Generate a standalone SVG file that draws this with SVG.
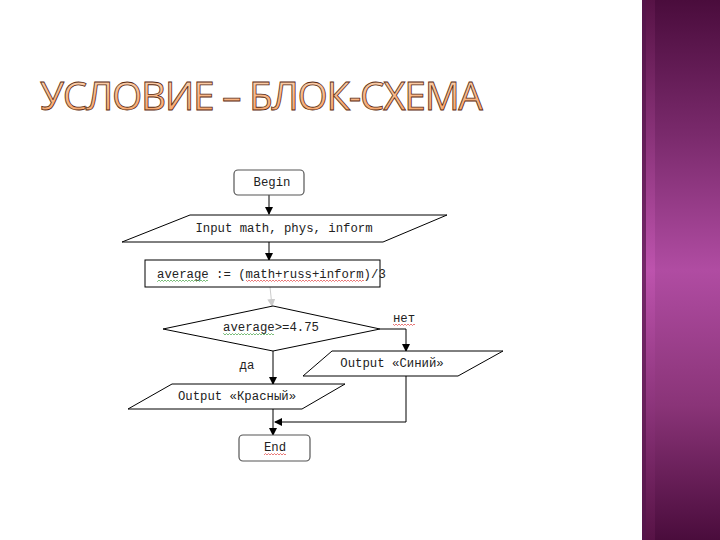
<svg xmlns="http://www.w3.org/2000/svg" width="720" height="540" viewBox="0 0 720 540">
<defs>
<linearGradient id="band" x1="0" y1="0" x2="0" y2="1">
<stop offset="0" stop-color="#4a0c3c"/>
<stop offset="0.25" stop-color="#7a2a6c"/>
<stop offset="0.5" stop-color="#b04ca2"/>
<stop offset="0.75" stop-color="#8a3478"/>
<stop offset="1" stop-color="#4a0c3c"/>
</linearGradient>
<linearGradient id="stripe" x1="0" y1="0" x2="0" y2="1">
<stop offset="0" stop-color="#5a1448"/>
<stop offset="0.5" stop-color="#c055b0"/>
<stop offset="1" stop-color="#5a1448"/>
</linearGradient>
<linearGradient id="title" x1="0" y1="0" x2="0" y2="1">
<stop offset="0" stop-color="#fde3c8"/>
<stop offset="0.5" stop-color="#f9b98a"/>
<stop offset="1" stop-color="#f6a060"/>
</linearGradient>
<pattern id="zr" width="3" height="2" patternUnits="userSpaceOnUse">
<path d="M0,0 L1.5,1.5 L3,0" fill="none" stroke="#e04040" stroke-width="0.7"/>
</pattern>
<pattern id="zg" width="3" height="2" patternUnits="userSpaceOnUse">
<path d="M0,0 L1.5,1.5 L3,0" fill="none" stroke="#40a040" stroke-width="0.7"/>
</pattern>
<marker id="arr" markerWidth="8" markerHeight="8" refX="7" refY="4" orient="auto" markerUnits="userSpaceOnUse">
<path d="M0,0 L8,4 L0,8 Z" fill="#000"/>
</marker>
<marker id="arrg" markerWidth="8" markerHeight="8" refX="7" refY="4" orient="auto" markerUnits="userSpaceOnUse">
<path d="M0,0 L8,4 L0,8 Z" fill="#ccc"/>
</marker>
</defs>
<style>
.shape{fill:#fff;stroke:#000;stroke-width:1}
.term{fill:#fff;stroke:#555;stroke-width:1.2}
.t{font-family:"Liberation Mono","DejaVu Sans Mono",monospace;font-size:12.3px;fill:#222}
.c{fill:none;stroke:#000;stroke-width:1}
</style>
<rect x="0" y="0" width="720" height="540" fill="#fff"/>
<g id="sidebar">
<rect x="642" y="0" width="78" height="540" fill="url(#band)"/>
<rect x="642" y="0" width="4" height="540" fill="#5a1850" opacity="0.7"/>
<rect x="646" y="0" width="9" height="540" fill="url(#stripe)" opacity="0.8"/>
</g>
<g id="title-text">
<text x="40" y="110" textLength="443" lengthAdjust="spacing" font-family="'Open Sans','DejaVu Sans',sans-serif" font-size="39" fill="url(#title)" stroke="#5a2a10" stroke-width="0.8">УСЛОВИЕ – БЛОК-СХЕМА</text>
</g>
<g id="connectors">
<line class="c" x1="269" y1="195" x2="269" y2="214" marker-end="url(#arr)"/>
<line class="c" x1="269" y1="242" x2="269" y2="260" marker-end="url(#arr)"/>
<line x1="270" y1="287" x2="272" y2="306" stroke="#ccc" stroke-width="1" marker-end="url(#arrg)"/>
<polyline class="c" points="380,329 406,329 406,351" marker-end="url(#arr)"/>
<line class="c" x1="273" y1="351" x2="273" y2="384" marker-end="url(#arr)"/>
<line class="c" x1="273" y1="409" x2="273" y2="435" marker-end="url(#arr)"/>
<polyline class="c" points="406,376 406,422 275,422" marker-end="url(#arr)"/>
<text class="t" x="404" y="322" text-anchor="middle">нет</text>
<rect x="393" y="324" width="22" height="2" fill="url(#zr)"/>
<text class="t" x="247" y="369" text-anchor="middle">да</text>
</g>
<g id="begin">
<rect class="term" x="234" y="170" width="70" height="25" rx="4"/>
<text class="t" x="272" y="186" text-anchor="middle">Begin</text>
</g>
<g id="input">
<polygon class="shape" points="190,215 447,215 383,242 122,242"/>
<text class="t" x="284" y="232" text-anchor="middle">Input math, phys, inform</text>
</g>
<g id="process">
<rect class="shape" x="145" y="260" width="235" height="27"/>
<text class="t" x="157" y="278">average := (math+russ+inform)/3</text>
<rect x="157" y="280" width="51" height="2" fill="url(#zg)"/>
<rect x="246" y="280" width="118" height="2" fill="url(#zr)"/>
</g>
<g id="decision">
<polygon class="shape" points="163,329 273,306 380,329 273,351"/>
<text class="t" x="271" y="331" text-anchor="middle">average&gt;=4.75</text>
<rect x="223" y="333" width="51" height="2" fill="url(#zg)"/>
</g>
<g id="output-blue">
<polygon class="shape" points="332,351 503,351 458,376 303,376"/>
<text class="t" x="392" y="367" text-anchor="middle">Output «Синий»</text>
</g>
<g id="output-red">
<polygon class="shape" points="172,384 345,384 302,409 128,409"/>
<text class="t" x="237" y="400" text-anchor="middle">Output «Красный»</text>
</g>
<g id="end">
<rect class="term" x="239" y="435" width="71" height="26" rx="4"/>
<text class="t" x="275" y="451" text-anchor="middle">End</text>
<rect x="264" y="453" width="22" height="2" fill="url(#zr)"/>
</g>
</svg>
